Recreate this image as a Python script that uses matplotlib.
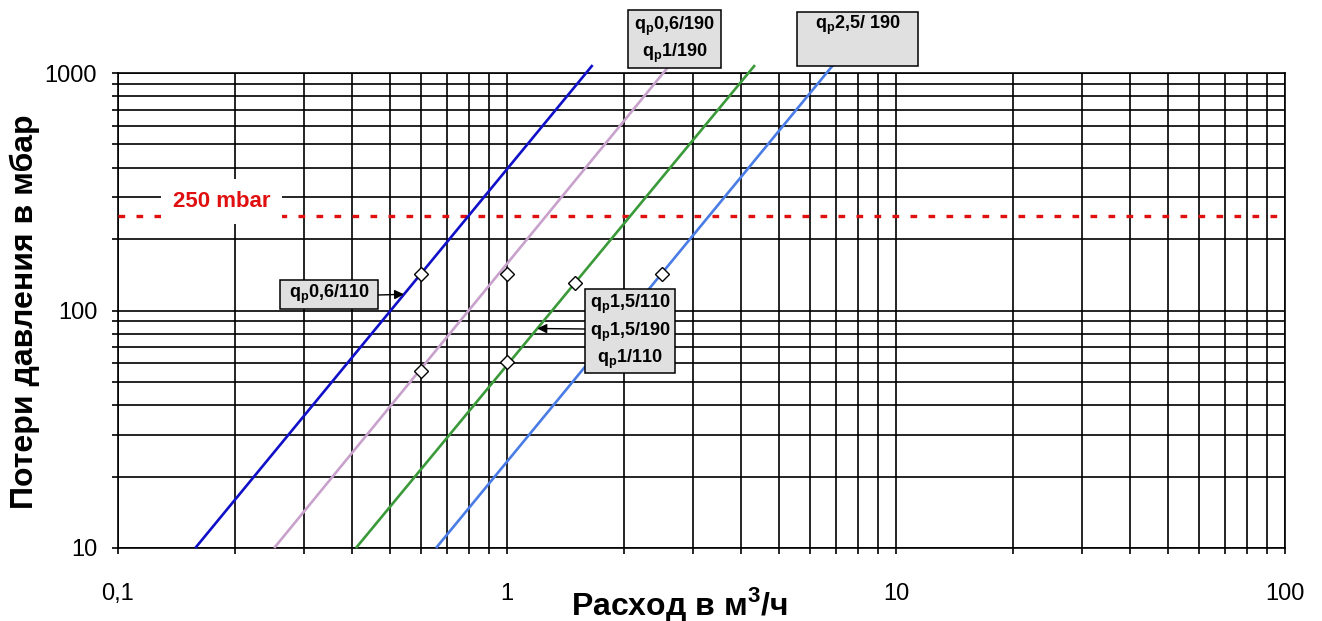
import numpy as np
import matplotlib
matplotlib.use("Agg")
import matplotlib.pyplot as plt
from matplotlib.patches import Rectangle
from matplotlib.ticker import FixedLocator, FixedFormatter, NullFormatter, LogLocator

W, H = 1322, 621

# pressure-loss curves: flow at the two ends of each (straight in log-log) line
series_names = ["qp0,6/110", "qp0,6/190, qp1/190", "qp1,5/110, qp1,5/190, qp1/110", "qp2,5/190"]
series_colors = ["#1010C8", "#C8A2CC", "#3A9A3A", "#4A7CE6"]
flow_start = [0.158, 0.252, 0.409, 0.657]
flow_end = [1.66, 2.62, 4.34, 6.89]
dp_ends = [10, 1080]

# nominal points (white diamonds)
marker_flow = [0.6, 0.6, 1.0, 1.0, 1.5, 2.5]
marker_dp = [143, 55.5, 143, 60.5, 131, 143]

limit_dp = 250

x_ticks = [0.1, 1, 10, 100]
x_tick_labels = ["0,1", "1", "10", "100"]
y_ticks = [10, 100, 1000]
y_tick_labels = ["10", "100", "1000"]

plt.rcParams["font.family"] = ["Liberation Sans", "DejaVu Sans"]
plt.rcParams["mathtext.fontset"] = "custom"
plt.rcParams["mathtext.rm"] = "Liberation Sans"
plt.rcParams["mathtext.bf"] = "Liberation Sans:bold"

fig = plt.figure(figsize=(W / 100, H / 100), dpi=100)
ax = fig.add_axes([118 / W, 1 - 548 / H, (1285 - 118) / W, (548 - 73) / H])
ax.set_xscale("log")
ax.set_yscale("log")
ax.set_xlim(0.1, 100)
ax.set_ylim(10, 1000)

ax.xaxis.set_major_locator(FixedLocator(x_ticks))
ax.xaxis.set_major_formatter(FixedFormatter(x_tick_labels))
ax.yaxis.set_major_locator(FixedLocator(y_ticks))
ax.yaxis.set_major_formatter(FixedFormatter(y_tick_labels))
for a in (ax.xaxis, ax.yaxis):
    a.set_minor_locator(LogLocator(base=10, subs=np.arange(2, 10)))
    a.set_minor_formatter(NullFormatter())

ax.grid(which="both", color="black", lw=1.2)
ax.set_axisbelow(True)
ax.tick_params(which="both", direction="out", length=4, width=1.2, color="black")
ax.tick_params(axis="x", which="major", pad=21, labelsize=17)
ax.tick_params(axis="y", which="major", pad=11, labelsize=17)
for s in ax.spines.values():
    s.set_color("black")
    s.set_linewidth(1.2)

# limit line
ax.axhline(limit_dp, color="#E01010", lw=2.4, linestyle=(0, (2, 3.4)), zorder=3)
ax.text(0.1845, 288, "250 mbar", color="#E01010", fontsize=16, fontweight="bold",
        ha="center", va="center", zorder=4,
        bbox=dict(boxstyle="square,pad=0.55", fc="white", ec="none"))

# curves
for q0, q1, c in zip(flow_start, flow_end, series_colors):
    ax.plot([q0, q1], dp_ends, color=c, lw=1.9, clip_on=False, zorder=5,
            solid_capstyle="butt")

ax.plot(marker_flow, marker_dp, linestyle="none", marker="D", ms=7.5,
        mfc="white", mec="black", mew=1.0, zorder=6)


def flow_at(i, dp):
    # position on a curve for a given pressure loss (for annotation arrows)
    lq = np.interp(np.log10(dp), np.log10(dp_ends), np.log10([flow_start[i], flow_end[i]]))
    return 10 ** lq


def label_box(x0, y0, x1, y1, text, ty=None):
    fig.add_artist(Rectangle((x0 / W, 1 - y1 / H), (x1 - x0) / W, (y1 - y0) / H,
                             transform=fig.transFigure, fc="#E0E0E0", ec="black", lw=1.1,
                             zorder=7))
    cy = (y0 + y1) / 2 if ty is None else ty
    fig.text((x0 + x1) / 2 / W, 1 - cy / H, text, ha="center", va="center",
             fontsize=13, fontweight="bold", linespacing=1.3, zorder=8)


def arrow(px, py, i, dp):
    ax.annotate("", xy=(flow_at(i, dp), dp), xycoords="data",
                xytext=(px / W, 1 - py / H), textcoords="figure fraction",
                arrowprops=dict(arrowstyle="-|>", color="black", lw=1.0,
                                mutation_scale=14, shrinkA=0, shrinkB=0),
                annotation_clip=False, zorder=8)


q = r"q$_\mathregular{p}$"
label_box(280, 280, 378, 309, q + "0,6/110")
arrow(378, 295, 0, 117)
label_box(585, 289, 675, 373, q + "1,5/110\n" + q + "1,5/190\n" + q + "1/110", ty=332)
arrow(585, 329, 2, 84)
label_box(628, 10, 721, 68, q + "0,6/190\n" + q + "1/190", ty=40)
label_box(797, 12, 918, 66, q + "2,5/ 190", ty=25)

fig.text(25 / W, 1 - 312 / H, "Потери давления в мбар", rotation=90, ha="center",
         va="center", fontsize=23, fontweight="bold")
fig.text(679 / W, 1 - 604 / H, r"Расход в м$^{\mathbf{3}}$/ч", ha="center", va="center",
         fontsize=23, fontweight="bold")

fig.savefig("out.png", dpi=100)
